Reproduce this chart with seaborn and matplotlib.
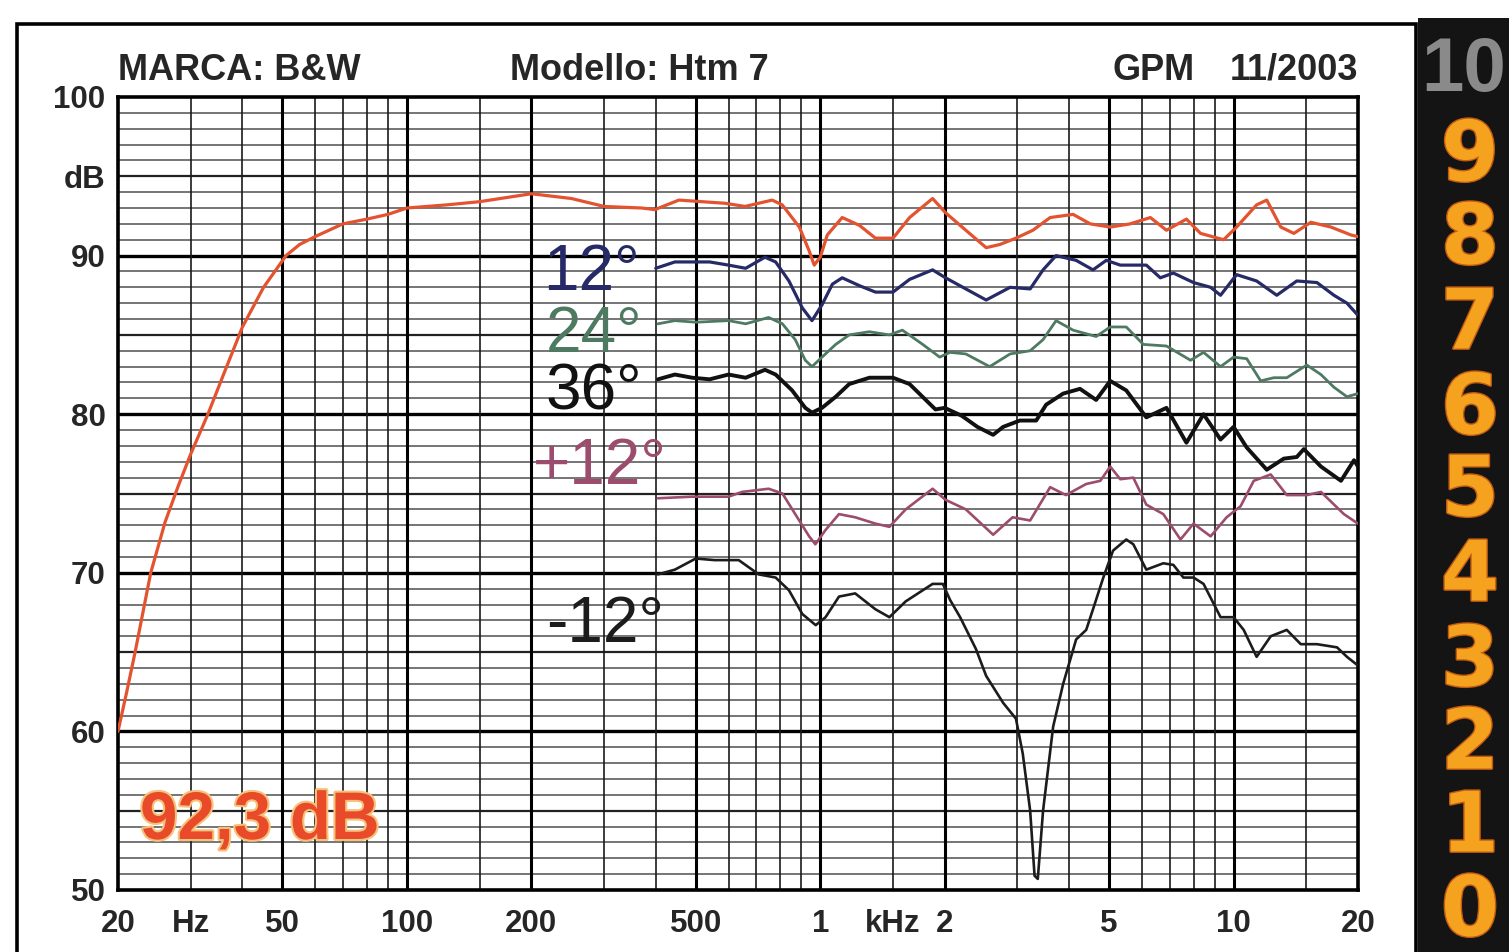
import matplotlib
matplotlib.use("Agg")
import matplotlib.pyplot as plt
import matplotlib.patheffects as pe
from matplotlib.patches import Rectangle
from matplotlib.ticker import NullLocator
import seaborn as sns

# ---------------- data ----------------
on_axis_hz = [20, 21, 22, 24, 26, 28, 30, 33, 36, 40, 45, 51, 55, 60, 70, 80, 90, 100, 125, 150,
              200, 250, 300, 370, 398, 455, 588, 658, 765, 809, 890, 940, 967, 1000, 1040, 1130,
              1245, 1360, 1500, 1645, 1870, 2010, 2250, 2520, 2720, 2975, 3270, 3600, 4090, 4500,
              5030, 5620, 6290, 6880, 7690, 8320, 9460, 10170, 11370, 12030, 13010, 13990, 15380,
              17200, 19230, 20000]
on_axis_db = [60, 62.5, 65, 70, 73.2, 75.5, 77.5, 80, 82.5, 85.5, 88, 90, 90.7, 91.2, 92, 92.3, 92.6,
              93, 93.2, 93.4, 93.9, 93.6, 93.1, 93.0, 92.9, 93.5, 93.3, 93.1, 93.5, 93.2, 91.8, 90.3,
              89.4, 89.9, 91.3, 92.4, 91.9, 91.1, 91.1, 92.4, 93.6, 92.7, 91.6, 90.5, 90.7, 91.1,
              91.6, 92.4, 92.6, 92.0, 91.8, 92.0, 92.4, 91.6, 92.3, 91.4, 91.0, 91.8, 93.2, 93.5,
              91.8, 91.4, 92.1, 91.8, 91.3, 91.2]

deg12_hz = [400, 445, 540, 600, 660, 735, 780, 840, 905, 955, 1010, 1070, 1130, 1245, 1360, 1500,
            1645, 1870, 2010, 2250, 2520, 2880, 3220, 3460, 3720, 4160, 4570, 4920, 5320, 6150,
            6650, 7150, 8000, 8800, 9300, 10170, 11370, 12720, 14220, 15910, 17490, 18810, 19890]
deg12_db = [89.2, 89.6, 89.6, 89.4, 89.2, 89.9, 89.6, 88.4, 86.7, 85.9, 86.9, 88.2, 88.6, 88.1,
            87.7, 87.7, 88.5, 89.1, 88.6, 87.9, 87.2, 88.0, 87.9, 89.1, 90.0, 89.7, 89.1, 89.7,
            89.4, 89.4, 88.6, 88.9, 88.3, 88.0, 87.5, 88.8, 88.4, 87.5, 88.4, 88.3, 87.5, 87.0, 86.3]

deg24_hz = [405, 445, 500, 600, 660, 750, 810, 870, 920, 955, 1010, 1090, 1175, 1315, 1470, 1580,
            1770, 1945, 2060, 2250, 2570, 2880, 3220, 3460, 3720, 4090, 4650, 5030, 5500, 6050,
            6880, 7870, 8460, 9300, 10000, 10760, 11630, 12510, 13450, 15040, 16270, 17490,
            18810, 20000]
deg24_db = [85.7, 85.9, 85.8, 85.9, 85.7, 86.1, 85.7, 84.7, 83.4, 83.0, 83.6, 84.4, 85.0, 85.2,
            85.0, 85.3, 84.4, 83.6, 83.9, 83.8, 83.0, 83.8, 84.0, 84.7, 85.9, 85.3, 84.9, 85.5,
            85.5, 84.4, 84.3, 83.4, 83.9, 83.0, 83.6, 83.5, 82.1, 82.3, 82.3, 83.1, 82.5, 81.7,
            81.1, 81.3]

deg36_hz = [405, 445, 490, 540, 600, 660, 735, 780, 855, 920, 955, 1010, 1090, 1175, 1315, 1500,
            1645, 1800, 1900, 2000, 2200, 2400, 2620, 2770, 3040, 3330, 3520, 3870, 4250, 4650,
            5030, 5500, 6150, 6880, 7690, 8460, 9300, 10000, 10760, 12030, 13230, 14220, 14790,
            16270, 18190, 19560, 20000]
deg36_db = [82.2, 82.5, 82.3, 82.2, 82.5, 82.3, 82.8, 82.5, 81.5, 80.4, 80.1, 80.4, 81.1, 81.9,
            82.3, 82.3, 81.9, 80.9, 80.3, 80.4, 79.9, 79.2, 78.7, 79.2, 79.6, 79.6, 80.6, 81.3,
            81.6, 80.9, 82.1, 81.5, 79.8, 80.4, 78.2, 80.0, 78.4, 79.2, 77.9, 76.5, 77.2, 77.3,
            77.8, 76.7, 75.8, 77.1, 76.7]

up12_hz = [405, 490, 600, 647, 750, 810, 870, 940, 973, 1030, 1110, 1215, 1360, 1470, 1610, 1870,
           2010, 2250, 2620, 2920, 3220, 3600, 3930, 4400, 4760, 5030, 5320, 5720, 6150, 6760,
           7440, 8000, 8800, 9620, 10400, 11190, 12300, 13450, 15040, 16270, 18490, 20000]
up12_db = [74.7, 74.8, 74.8, 75.1, 75.3, 75.0, 73.7, 72.3, 71.8, 72.7, 73.7, 73.5, 73.1, 72.9,
           74.0, 75.3, 74.6, 74.0, 72.4, 73.5, 73.3, 75.4, 74.9, 75.6, 75.8, 76.7, 75.9, 76.0,
           74.3, 73.7, 72.1, 73.1, 72.3, 73.5, 74.2, 75.8, 76.2, 74.9, 74.9, 75.1, 73.7, 73.1]

down12_hz = [405, 445, 500, 555, 635, 710, 780, 840, 905, 975, 1030, 1110, 1215, 1360, 1470, 1610,
             1870, 1980, 2060, 2180, 2380, 2520, 2770, 2975, 3090, 3220, 3300, 3360, 3460, 3660,
             3870, 4160, 4400, 4570, 4840, 5110, 5500, 5720, 6150, 6760, 7150, 7560, 8000, 8460,
             9300, 10000, 10580, 11370, 12300, 13450, 14540, 15910, 17790, 18810, 19890]
down12_db = [69.9, 70.2, 70.9, 70.8, 70.8, 69.9, 69.7, 68.9, 67.4, 66.7, 67.2, 68.5, 68.7, 67.7,
             67.2, 68.2, 69.3, 69.3, 68.3, 67.2, 65.2, 63.5, 61.8, 60.8, 58.6, 55.0, 50.9, 50.7,
             55.0, 60.3, 63.0, 65.8, 66.4, 67.7, 69.7, 71.4, 72.1, 71.8, 70.2, 70.6, 70.5, 69.7,
             69.7, 69.3, 67.2, 67.2, 66.4, 64.7, 66.0, 66.4, 65.5, 65.5, 65.3, 64.7, 64.2]

x_tick_hz = [20, 30, 50, 100, 200, 500, 1000, 1500, 2000, 5000, 10000, 20000]
x_tick_labels = ["20", "Hz", "50", "100", "200", "500", "1", "kHz", "2", "5", "10", "20"]
y_tick_db = [50, 60, 70, 80, 90, 95, 100]
y_tick_labels = ["50", "60", "70", "80", "90", "dB", "100"]

grid_thick_hz = [50, 100, 200, 500, 1000, 2000, 5000, 10000]
grid_thin_hz = [30, 40, 60, 70, 80, 90, 150, 300, 400, 600, 700, 800, 900, 1500,
                3000, 4000, 6000, 7000, 8000, 9000, 15000]
grid_thick_db = [60, 70, 80, 90]
grid_mid_db = [55, 65, 75, 85, 95]
grid_thin_db = [d for d in range(51, 100) if d % 5 != 0]

header_texts = ["MARCA: B&W", "Modello: Htm 7", "GPM", "11/2003"]
sensitivity_text = "92,3 dB"
curve_labels = ["12°", "24°", "36°", "+12°", "-12°"]
rating_digits = ["10", "9", "8", "7", "6", "5", "4", "3", "2", "1", "0"]

# ---------------- styling ----------------
sns.set_theme(style="white")
plt.rcParams["font.family"] = ["Liberation Sans", "DejaVu Sans"]

W, H = 1509, 952
fig = plt.figure(figsize=(W / 100, H / 100), dpi=100, facecolor="white")


def fx(px):
    return px / W


def fy(py):
    return 1 - py / H


ax = fig.add_axes([fx(118), fy(890), fx(1358) - fx(118), fy(97) - fy(890)])
ax.set_facecolor("white")
ax.set_xscale("log")
ax.set_xlim(20, 20000)
ax.set_ylim(50, 100)

# grid
for v in grid_thin_db:
    ax.axhline(v, color="#5e5e5e", lw=1.2, zorder=1)
for v in grid_mid_db:
    ax.axhline(v, color="#222222", lw=1.6, zorder=1)
for v in grid_thick_db:
    ax.axhline(v, color="#000000", lw=2.4, zorder=1)
for v in grid_thin_hz:
    ax.axvline(v, color="#1a1a1a", lw=1.2, zorder=1)
for v in grid_thick_hz:
    ax.axvline(v, color="#000000", lw=2.2, zorder=1)

for s in ax.spines.values():
    s.set_color("black")
    s.set_linewidth(2.6)
    s.set_visible(True)

# curves
curves = [
    (on_axis_hz, on_axis_db, "#e4532f", 2.3),
    (deg12_hz, deg12_db, "#262a66", 2.3),
    (deg24_hz, deg24_db, "#4e7a62", 2.0),
    (deg36_hz, deg36_db, "#111111", 2.8),
    (up12_hz, up12_db, "#9c4c6c", 1.9),
    (down12_hz, down12_db, "#1c1c1c", 1.9),
]
for hz, db, col, lw in curves:
    sns.lineplot(x=hz, y=db, ax=ax, color=col, linewidth=lw, estimator=None,
                 sort=False, zorder=3)

# ticks
ax.xaxis.set_minor_locator(NullLocator())
ax.yaxis.set_minor_locator(NullLocator())
ax.set_xticks(x_tick_hz)
ax.set_xticklabels(x_tick_labels, fontsize=22.5, fontweight="bold")
ax.set_yticks(y_tick_db)
ax.set_yticklabels(y_tick_labels, fontsize=22.5, fontweight="bold")
ax.tick_params(axis="both", length=0)
ax.tick_params(axis="x", pad=14)
ax.tick_params(axis="y", pad=9)
ax.set_xlabel("")
ax.set_ylabel("")

# curve labels
label_specs = [
    (curve_labels[0], 543, 273, "#262a66"),
    (curve_labels[1], 546, 335, "#4e7a62"),
    (curve_labels[2], 546, 392, "#111111"),
    (curve_labels[3], 533, 467, "#9c4c6c"),
    (curve_labels[4], 546, 625, "#1c1c1c"),
]
for txt, px, py, col in label_specs:
    fig.text(fx(px), fy(py), txt, fontsize=46, color=col, ha="left", va="center",
             fontweight="normal", zorder=5)

# sensitivity
fig.text(fx(140), fy(822), sensitivity_text, fontsize=48.5, fontweight="bold",
         color="#e84a2a", ha="left", va="center", zorder=5,
         path_effects=[pe.withStroke(linewidth=3, foreground="#f6c27a")])

# header
hy = fy(70)
fig.text(fx(118), hy, header_texts[0], fontsize=26, fontweight="bold", ha="left", va="center")
fig.text(fx(510), hy, header_texts[1], fontsize=26, fontweight="bold", ha="left", va="center")
fig.text(fx(1112), hy, header_texts[2], fontsize=26, fontweight="bold", ha="left", va="center")
fig.text(fx(1358), hy, header_texts[3], fontsize=26, fontweight="bold", ha="right", va="center")

# outer frame
fig.patches.append(Rectangle((fx(17), fy(960)), fx(1416) - fx(17), fy(24) - fy(960),
                             transform=fig.transFigure, fill=False, edgecolor="black",
                             linewidth=2.6, zorder=0))

# rating strip
fig.patches.append(Rectangle((fx(1418), 0), 1 - fx(1418), fy(18), transform=fig.transFigure,
                             facecolor="#141414", edgecolor="none", zorder=0))
digit_y = [72, 157, 240, 325, 410, 492, 577, 662, 745, 828, 912]
for d, py in zip(rating_digits, digit_y):
    if d == "10":
        fig.text(fx(1464), fy(py), d, fontsize=55, fontweight="bold", family="Liberation Sans",
                 color="#8a8a8a", ha="center", va="center", zorder=2)
    else:
        fig.text(fx(1470), fy(py), d, fontsize=60, fontweight="bold", family="DejaVu Sans",
                 color="#f5a21e", ha="center", va="center", zorder=2,
                 path_effects=[pe.withStroke(linewidth=2, foreground="#c25a10")])

fig.savefig("out.png", dpi=100, facecolor="white")
